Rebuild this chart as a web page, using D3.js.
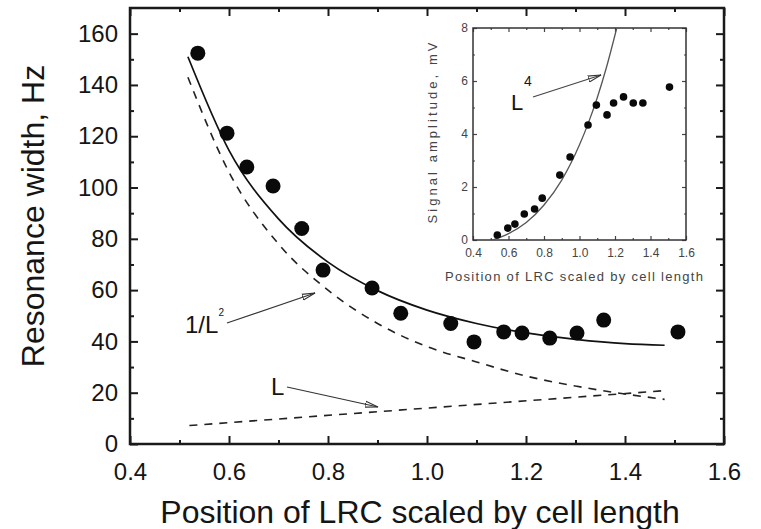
<!DOCTYPE html>
<html>
<head>
<meta charset="utf-8">
<script src="https://cdn.jsdelivr.net/npm/d3@7"></script>
<style>
  body { margin: 0; background: #fff; }
  text { font-family: "Liberation Sans", Arial, sans-serif; fill: #151515; }
</style>
</head>
<body>
<div id="cnt"></div>
<script>
// posiciones medidas (compartidas por grafica principal e inserto)
let posX = [0.537, 0.596, 0.636, 0.689, 0.747, 0.790, 0.889, 0.947, 1.048, 1.095, 1.155, 1.192, 1.248, 1.303, 1.357, 1.507];
let anchoRes = [152.4, 121.2, 108, 100.6, 84, 67.8, 60.8, 51, 47, 39.8, 43.7, 43.3, 41.3, 43.3, 48.3, 43.7];
let senal = [0.19, 0.45, 0.6, 0.98, 1.17, 1.58, 2.45, 3.13, 4.34, 5.09, 4.72, 5.17, 5.4, 5.17, 5.17, 5.77];

// curvas
let ajusteX = [0.517, 0.6, 0.7, 0.8, 0.9, 1.0, 1.1, 1.2, 1.3, 1.4, 1.48];
let ajusteTotal = [151, 114.5, 87.8, 70.9, 59.8, 52.2, 47, 43.3, 40.8, 39.1, 38.5];
let ajusteInv = [143, 106, 78, 60, 47, 38, 32, 26.5, 22.6, 19.5, 17.4];
let lineaX = [0.52, 1.48];
let lineaL = [7.2, 20.8];
let curvaX = [0.51, 0.6, 0.7, 0.8, 0.9, 1.0, 1.05, 1.1, 1.15, 1.21];
let curvaL4 = [0, 0.24, 0.66, 1.32, 2.26, 3.59, 4.42, 5.37, 6.47, 8];

// ticks
let ticksX = [0.4, 0.6, 0.8, 1.0, 1.2, 1.4, 1.6];
let menoresX = [0.5, 0.7, 0.9, 1.1, 1.3, 1.5];
let ticksY = [0, 20, 40, 60, 80, 100, 120, 140, 160];
let menoresY = [10, 30, 50, 70, 90, 110, 130, 150];
let ticksYIns = [0, 2, 4, 6, 8];
let menoresYIns = [1, 3, 5, 7];

let ancho = 761;
let largo = 529;

let svg = d3.select('#cnt')
    .append("svg")
    .attr('width', ancho)
    .attr('height', largo)

svg.append("rect")
    .attr('width', ancho)
    .attr('height', largo)
    .style('fill', '#ffffff')

let x = d3.scaleLinear().domain([0.4, 1.6]).range([130, 724]);
let y = d3.scaleLinear().domain([0, 170]).range([444, 8]);

//Flecha
svg.append("defs").append("marker")
    .attr('id', 'punta')
    .attr('markerUnits', 'userSpaceOnUse')
    .attr('viewBox', '0 -4 14 8')
    .attr('refX', 13)
    .attr('refY', 0)
    .attr('markerWidth', 14)
    .attr('markerHeight', 8)
    .attr('orient', 'auto')
    .append("path")
    .attr('d', 'M0,-3L13,0L0,3Z')
    .style('fill', 'none')
    .style('stroke', '#333')
    .style('stroke-width', 1.1)

//Ejes con ticks hacia adentro en los cuatro lados
function ejes(g, ax, ay, tam, menor, fuente, padX, padY, tkX, mnX, tkY, mnY) {
    let b = ax.range(), h = ay.range();
    g.append("g").attr('transform', 'translate(0,' + h[0] + ')')
        .call(d3.axisBottom(ax).tickValues(tkX).tickSize(-tam).tickPadding(padX).tickFormat(d3.format(".1f")))
    g.append("g").attr('transform', 'translate(0,' + h[0] + ')')
        .call(d3.axisBottom(ax).tickValues(mnX).tickSize(-menor).tickFormat(""))
    g.append("g").attr('transform', 'translate(0,' + h[1] + ')')
        .call(d3.axisTop(ax).tickValues(tkX).tickSize(-tam).tickFormat(""))
    g.append("g").attr('transform', 'translate(0,' + h[1] + ')')
        .call(d3.axisTop(ax).tickValues(mnX).tickSize(-menor).tickFormat(""))
    g.append("g").attr('transform', 'translate(' + b[0] + ',0)')
        .call(d3.axisLeft(ay).tickValues(tkY).tickSize(-tam).tickPadding(padY).tickFormat(d3.format("d")))
    g.append("g").attr('transform', 'translate(' + b[0] + ',0)')
        .call(d3.axisLeft(ay).tickValues(mnY).tickSize(-menor).tickFormat(""))
    g.append("g").attr('transform', 'translate(' + b[1] + ',0)')
        .call(d3.axisRight(ay).tickValues(tkY).tickSize(-tam).tickFormat(""))
    g.append("g").attr('transform', 'translate(' + b[1] + ',0)')
        .call(d3.axisRight(ay).tickValues(mnY).tickSize(-menor).tickFormat(""))
    g.selectAll(".domain").remove();
    g.selectAll("text")
        .style('font-family', '"Liberation Sans", Arial, sans-serif')
        .style('font-size', fuente + "px")
        .style('fill', '#151515')
}

let gPrin = svg.append("g");
ejes(gPrin, x, y, 8, 4, 24, 19, 12, ticksX, menoresX, ticksY, menoresY);
gPrin.selectAll(".tick line").style('stroke', '#1a1a1a').style('stroke-width', 2)

gPrin.append("rect")
    .attr('x', x(0.4))
    .attr('y', y(170))
    .attr('width', x(1.6) - x(0.4))
    .attr('height', y(0) - y(170))
    .style('fill', 'none')
    .style('stroke', '#1a1a1a')
    .style('stroke-width', 2.5)

//Curvas
let linea = d3.line()
    .x(d => x(d[0]))
    .y(d => y(d[1]))
    .curve(d3.curveMonotoneX)

svg.append("path")
    .datum(ajusteX.map((d, i) => [d, ajusteInv[i]]))
    .attr('d', linea)
    .style('fill', 'none')
    .style('stroke', '#222')
    .style('stroke-width', 1.6)
    .style('stroke-dasharray', '8,7')

svg.append("path")
    .datum(lineaX.map((d, i) => [d, lineaL[i]]))
    .attr('d', linea)
    .style('fill', 'none')
    .style('stroke', '#222')
    .style('stroke-width', 1.6)
    .style('stroke-dasharray', '8,7')

svg.append("path")
    .datum(ajusteX.map((d, i) => [d, ajusteTotal[i]]))
    .attr('d', linea)
    .style('fill', 'none')
    .style('stroke', '#111')
    .style('stroke-width', 1.7)

svg.append("g").selectAll("circle")
    .data(posX.map((d, i) => [d, anchoRes[i]]))
    .enter()
    .append("circle")
    .attr('cx', d => x(d[0]))
    .attr('cy', d => y(d[1]))
    .attr('r', 7.5)
    .style('fill', '#0a0a0a')

//Anotaciones
svg.append("text").attr('x', 185).attr('y', 333).style('font-size', '24px').text("1/L")
svg.append("text").attr('x', 218.5).attr('y', 316).style('font-size', '10px').text("2")
svg.append("line")
    .attr('x1', 227).attr('y1', 323).attr('x2', 315).attr('y2', 293)
    .style('stroke', '#333').style('stroke-width', 1.2)
    .attr('marker-end', 'url(#punta)')

svg.append("text").attr('x', 271).attr('y', 395).style('font-size', '24px').text("L")
svg.append("line")
    .attr('x1', 287).attr('y1', 387).attr('x2', 378).attr('y2', 407)
    .style('stroke', '#333').style('stroke-width', 1.2)
    .attr('marker-end', 'url(#punta)')

//Titulos ejes
svg.append("text")
    .attr('transform', 'translate(44,' + 216 + ') rotate(-90)')
    .attr('text-anchor', 'middle')
    .style('font-size', '32px')
    .text("Resonance width, Hz")

svg.append("text")
    .attr('x', 420)
    .attr('y', 523)
    .attr('text-anchor', 'middle')
    .style('font-size', '32px')
    .text("Position of LRC scaled by cell length")

//Inserto
let ix = d3.scaleLinear().domain([0.4, 1.6]).range([473, 686]);
let iy = d3.scaleLinear().domain([0, 8]).range([240, 28]);

let gIns = svg.append("g");
ejes(gIns, ix, iy, 4, 2, 12, 8, 5, ticksX, menoresX, ticksYIns, menoresYIns);
gIns.selectAll(".tick line").style('stroke', '#444').style('stroke-width', 1.2)
gIns.selectAll("text").style('fill', '#444')

gIns.append("rect")
    .attr('x', ix(0.4))
    .attr('y', iy(8))
    .attr('width', ix(1.6) - ix(0.4))
    .attr('height', iy(0) - iy(8))
    .style('fill', 'none')
    .style('stroke', '#333')
    .style('stroke-width', 1.5)

let lineaIns = d3.line()
    .x(d => ix(d[0]))
    .y(d => iy(d[1]))
    .curve(d3.curveMonotoneX)

gIns.append("path")
    .datum(curvaX.map((d, i) => [d, curvaL4[i]]))
    .attr('d', lineaIns)
    .style('fill', 'none')
    .style('stroke', '#555')
    .style('stroke-width', 1.3)

gIns.append("g").selectAll("circle")
    .data(posX.map((d, i) => [d, senal[i]]))
    .enter()
    .append("circle")
    .attr('cx', d => ix(d[0]))
    .attr('cy', d => iy(d[1]))
    .attr('r', 3.8)
    .style('fill', '#0a0a0a')

gIns.append("text").attr('x', 511).attr('y', 110).style('font-size', '22px').text("L")
gIns.append("text").attr('x', 524).attr('y', 86).style('font-size', '14px').text("4")
gIns.append("line")
    .attr('x1', 533).attr('y1', 97).attr('x2', 601).attr('y2', 75)
    .style('stroke', '#444').style('stroke-width', 1.1)
    .attr('marker-end', 'url(#punta)')

gIns.append("text")
    .attr('transform', 'translate(437,133) rotate(-90)')
    .attr('text-anchor', 'middle')
    .attr('textLength', 181)
    .style('font-size', '13px')
    .style('fill', '#444')
    .text("Signal amplitude, mV")

gIns.append("text")
    .attr('x', 574)
    .attr('y', 281)
    .attr('text-anchor', 'middle')
    .attr('textLength', 258)
    .style('font-size', '13px')
    .style('fill', '#444')
    .text("Position of LRC scaled by cell length")
</script>
</body>
</html>
